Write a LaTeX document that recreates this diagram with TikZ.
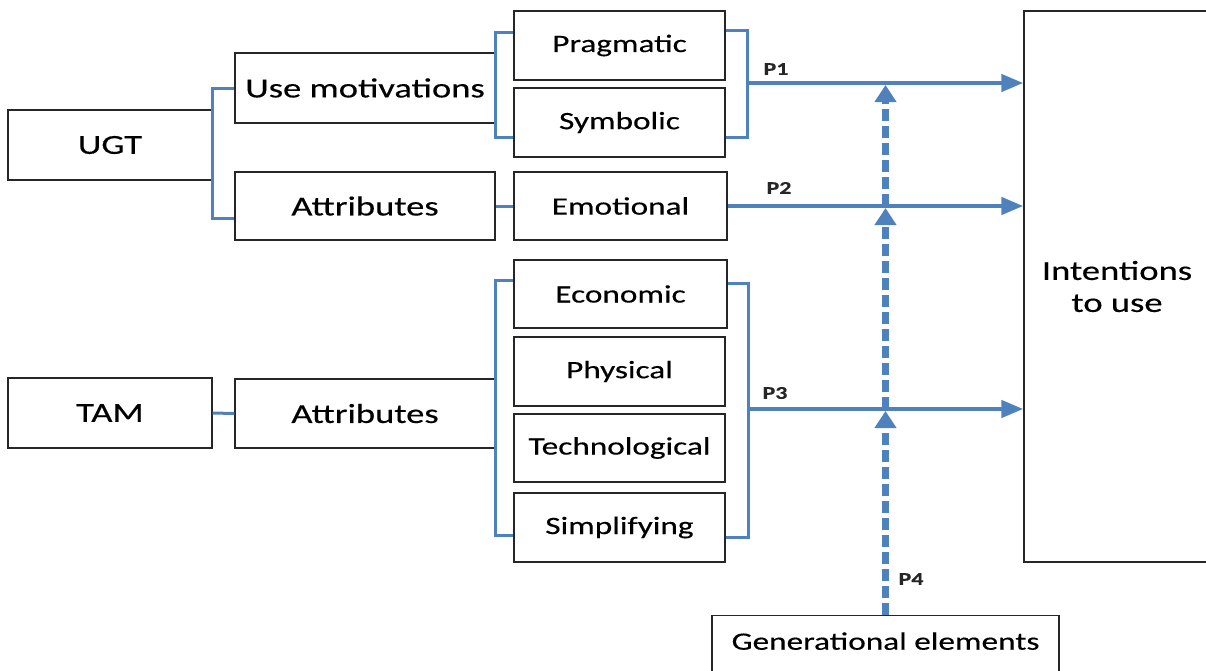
\documentclass[tikz,border=0pt]{standalone}
\usepackage{fontspec}
\setmainfont{Carlito}[FakeStretch=1.33,FakeBold=0.35]
\usetikzlibrary{arrows.meta,calc}
\definecolor{linkblue}{HTML}{4F81BD}
\definecolor{edgegray}{HTML}{262626}

\begin{document}
\begin{tikzpicture}[x=1pt,y=-1pt,
  box/.style={draw=edgegray, line width=1.4pt, fill=white, inner sep=0pt,
              font=\fontsize{25}{32}\selectfont, align=center, text=black},
  bigbox/.style={box, font=\fontsize{27.5}{32}\selectfont},
  br/.style={draw=linkblue, line width=3pt},
  flow/.style={draw=linkblue, line width=4.5pt, -{Triangle[length=22pt,width=17pt]}},
  modarrow/.style={draw=linkblue, line width=6.5pt, dash pattern=on 12pt off 5pt,
              shorten >=2pt, -{Triangle[length=17pt,width=21pt]}},
  plab/.style={font=\fontsize{18}{20}\selectfont\bfseries, text=black!85}
]
\useasboundingbox (0,0) rectangle (1206,670);

% theories
\node[bigbox, minimum width=204pt, minimum height=70pt] (ugt) at (110,145) {UGT};
\node[bigbox, minimum width=204pt, minimum height=70pt] (tam) at (110,413) {TAM};

% second level
\node[bigbox, minimum width=260pt, minimum height=70pt] (usem)  at (365,88)    {Use motivations};
\node[bigbox, minimum width=260pt, minimum height=68pt] (attr1) at (365,206)   {Attributes};
\node[bigbox, minimum width=260pt, minimum height=69pt] (attr2) at (365,413.5) {Attributes};

% third level
\node[box, minimum width=211pt, minimum height=69pt] (prag) at (619.5,45.5)  {Pragmatic};
\node[box, minimum width=211pt, minimum height=69pt] (symb) at (619.5,122.5) {Symbolic};
\node[box, minimum width=213pt, minimum height=68pt] (emot) at (620.5,206)   {Emotional};
\node[box, minimum width=213pt, minimum height=68pt] (econ) at (620.5,294)   {Economic};
\node[box, minimum width=211pt, minimum height=69pt] (phys) at (619.5,371.5) {Physical};
\node[box, minimum width=211pt, minimum height=68pt] (tech) at (619.5,448)   {Technological};
\node[box, minimum width=211pt, minimum height=69pt] (simp) at (619.5,527.5) {Simplifying};

% outcome and moderator
\node[bigbox, minimum width=186pt, minimum height=551pt] (intent) at (1117,286.5) {Intentions\\to use};
\node[box, anchor=north, minimum width=347pt, text height=34pt, text depth=51pt] (gen) at (885.5,615) {Generational elements};

% UGT bracket
\draw[br] (usem.west) -- (ugt.east |- usem.west) -- (ugt.east |- 0,218) -- (attr1.west |- 0,218);

% motivations brackets
\coordinate (pl1) at ($(prag.west)+(0,-13)$);
\coordinate (pl2) at ($(symb.west)+(0,15)$);
\draw[br] (pl1) -| (usem.east) |- (pl2);
\coordinate (pr1) at ($(prag.east)+(0,-15)$);
\coordinate (pr2) at ($(symb.east)+(0,14.5)$);
\coordinate (j1) at ($(prag.east)!.5!(symb.east)+(22,-1)$);
\draw[br] (pr1) -| (j1) |- (pr2);

% attributes links
\draw[br] (attr1.east) -- (emot.west);
\draw[br] (tam.east) -- (attr2.west);

% TAM attribute brackets
\coordinate (bl1) at ($(econ.west)+(0,-14)$);
\coordinate (bl2) at ($(simp.west)+(0,7.5)$);
\draw[br] (bl1) -| (attr2.east) |- (bl2);
\coordinate (br1) at ($(econ.east)+(0,-11)$);
\coordinate (br2) at ($(simp.east)+(0,9.5)$);
\coordinate (j3) at ($(econ.east)+(21,115)$);
\draw[br] (br1) -| (j3) |- (br2);

% moderating effect
\coordinate (m3) at (gen.north |- j3);
\coordinate (m2) at (gen.north |- emot.east);
\coordinate (m1) at (gen.north |- j1);
\draw[modarrow] (gen.north) -- (m3);
\draw[modarrow] (m3) -- (m2);
\draw[modarrow] (m2) -- (m1);

% propositions
\draw[flow] (j1) -- (j1 -| intent.west);
\draw[flow] (emot.east) -- (emot.east -| intent.west);
\draw[flow] (j3) -- (j3 -| intent.west);

\node[plab] (p1) at (776,69)  {P1};
\node[plab] (p2) at (779,188) {P2};
\node[plab] (p3) at (775,393) {P3};
\node[plab] (p4) at (911,579) {P4};
\end{tikzpicture}
\end{document}
